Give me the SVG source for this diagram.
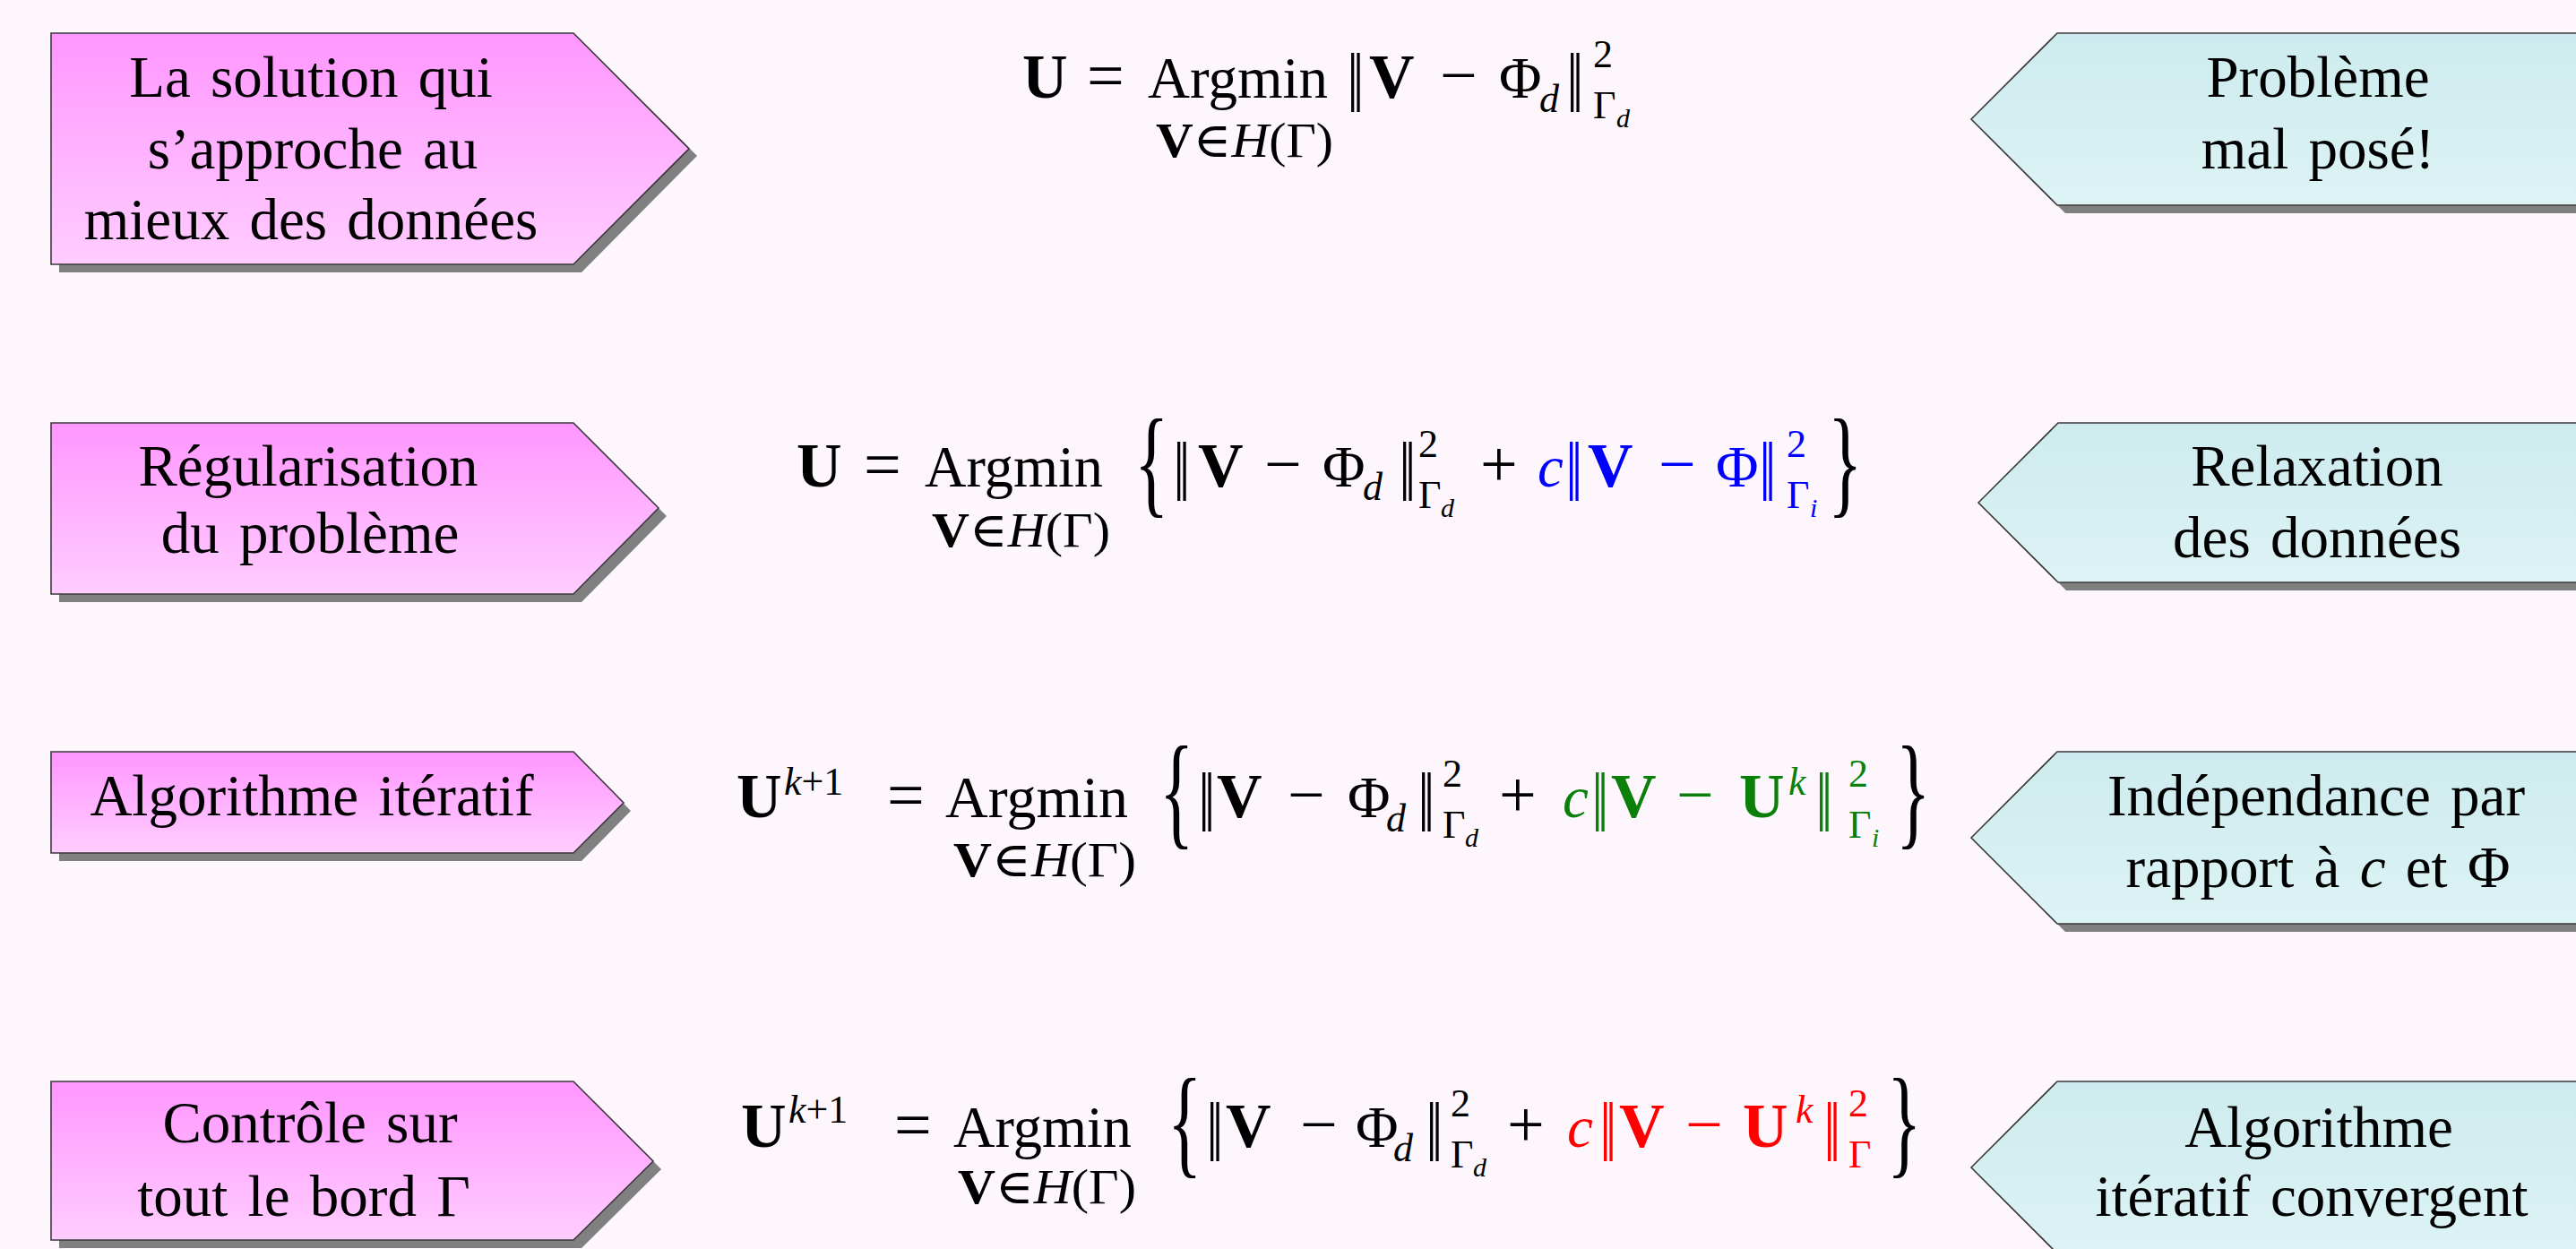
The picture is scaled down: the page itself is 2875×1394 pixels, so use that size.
<svg xmlns="http://www.w3.org/2000/svg" width="2875" height="1394" viewBox="0 0 2875 1394">
<defs>
<linearGradient id="gPink" x1="0" y1="0" x2="0" y2="1">
<stop offset="0" stop-color="#ff96ff"/>
<stop offset="1" stop-color="#ffcdff"/>
</linearGradient>
<linearGradient id="gCyan" x1="0" y1="0" x2="0" y2="1">
<stop offset="0" stop-color="#cdebee"/>
<stop offset="1" stop-color="#ddf3f5"/>
</linearGradient>
<style>
.shadow{fill:#808080}
.lbox{fill:url(#gPink);stroke:#3a3a3a;stroke-width:1.6}
.rbox{fill:url(#gCyan);stroke:#3a3a3a;stroke-width:1.6}
text{font-family:"Liberation Serif","DejaVu Serif",serif;fill:#000}
.lbl{font-size:65px;text-anchor:middle;word-spacing:6px}
.m{font-size:65px}
.o{font-size:74px}
.n{font-family:"DejaVu Sans",sans-serif;font-size:66px}
.b{font-weight:bold;font-size:70px}
.i{font-style:italic}
.s{font-size:44px}
.ss{font-size:30px}
.lim{font-size:54px}
.lim .b{font-size:54px}
.br{font-size:80px}
.blue{fill:#0000ff}
.green{fill:#0a800a}
.red{fill:#ff0000}
</style>
</defs>
<rect x="0" y="0" width="2875" height="1394" fill="#fdf6fd"/>

<g id="connectors"></g>

<!-- Row 1 -->
<g id="node-left-1">
<polygon class="shadow" points="66,46 649,46 778,174 649,304 66,304"/>
<polygon class="lbox" points="57,37 640,37 769,166 640,295 57,295"/>
<text class="lbl" x="347" y="108">La solution qui</text>
<text class="lbl" x="349" y="188">s’approche au</text>
<text class="lbl" x="347" y="267">mieux des données</text>
</g>
<g id="node-formula-1">
<text class="m b" x="1141" y="109">U</text>
<text class="o" x="1213" y="109">=</text>
<text class="m" x="1281" y="109" textLength="201" lengthAdjust="spacingAndGlyphs">Argmin</text>
<text class="lim" x="1290" y="175" textLength="198" lengthAdjust="spacingAndGlyphs"><tspan class="b">V</tspan>∈<tspan class="i">H</tspan>(Γ)</text>
<text class="n" transform="translate(1503,109) scale(0.6,1)">‖</text>
<text class="m b" x="1528" y="109">V</text>
<text class="o" x="1607" y="109">−</text>
<text class="m" x="1673" y="109">Φ</text>
<text class="s i" x="1718" y="125">d</text>
<text class="n" transform="translate(1748,109) scale(0.6,1)">‖</text>
<text class="s" x="1778" y="75">2</text>
<text class="s" x="1778" y="132">Γ</text>
<text class="ss i" x="1804" y="142">d</text>
</g>
<g id="node-right-1">
<polygon class="shadow" points="2209,142 2305,46 2900,46 2900,238 2305,238"/>
<polygon class="rbox" points="2200,133 2296,37 2900,37 2900,229 2296,229"/>
<text class="lbl" x="2587" y="108">Problème</text>
<text class="lbl" x="2587" y="188">mal posé!</text>
</g>

<!-- Row 2 -->
<g id="node-left-2">
<polygon class="shadow" points="66,481 649,481 744,576 649,672 66,672"/>
<polygon class="lbox" points="57,472 640,472 735,567 640,663 57,663"/>
<text class="lbl" x="344" y="542">Régularisation</text>
<text class="lbl" x="346" y="617">du problème</text>
</g>
<g id="node-formula-2">
<text class="m b" x="889" y="543">U</text>
<text class="o" x="964" y="543">=</text>
<text class="m" x="1032" y="543" textLength="199" lengthAdjust="spacingAndGlyphs">Argmin</text>
<text class="lim" x="1040" y="610" textLength="199" lengthAdjust="spacingAndGlyphs"><tspan class="b">V</tspan>∈<tspan class="i">H</tspan>(Γ)</text>
<text class="br" transform="translate(1266,560) scale(1,1.67)">{</text>
<text class="n" transform="translate(1309,543) scale(0.6,1)">‖</text>
<text class="m b" x="1337" y="543">V</text>
<text class="o" x="1411" y="543">−</text>
<text class="m" x="1476" y="543">Φ</text>
<text class="s i" x="1521" y="558">d</text>
<text class="n" transform="translate(1561,543) scale(0.6,1)">‖</text>
<text class="s" x="1583" y="510">2</text>
<text class="s" x="1583" y="567">Γ</text>
<text class="ss i" x="1608" y="577">d</text>
<text class="o" x="1652" y="543">+</text>
<text class="m i blue" x="1716" y="543">c</text>
<text class="n blue" transform="translate(1747,543) scale(0.6,1)">‖</text>
<text class="m b blue" x="1772" y="543">V</text>
<text class="o blue" x="1851" y="543">−</text>
<text class="m blue" x="1915" y="543">Φ</text>
<text class="n blue" transform="translate(1963,543) scale(0.6,1)">‖</text>
<text class="s blue" x="1994" y="510">2</text>
<text class="s blue" x="1994" y="567">Γ</text>
<text class="ss i blue" x="2020" y="577">i</text>
<text class="br" transform="translate(2040,560) scale(1,1.67)">}</text>
</g>
<g id="node-right-2">
<polygon class="shadow" points="2217,569 2306,481 2900,481 2900,659 2306,659"/>
<polygon class="rbox" points="2208,561 2297,472 2900,472 2900,650 2297,650"/>
<text class="lbl" x="2586" y="542">Relaxation</text>
<text class="lbl" x="2586" y="622">des données</text>
</g>

<!-- Row 3 -->
<g id="node-left-3">
<polygon class="shadow" points="66,848 649,848 704,905 649,961 66,961"/>
<polygon class="lbox" points="57,839 640,839 696,896 640,952 57,952"/>
<text class="lbl" x="348" y="910">Algorithme itératif</text>
</g>
<g id="node-formula-3">
<text class="m b" x="822" y="912">U</text>
<text class="s i" x="875" y="887">k<tspan font-style="normal">+1</tspan></text>
<text class="o" x="990" y="912">=</text>
<text class="m" x="1055" y="912" textLength="204" lengthAdjust="spacingAndGlyphs">Argmin</text>
<text class="lim" x="1064" y="978" textLength="204" lengthAdjust="spacingAndGlyphs"><tspan class="b">V</tspan>∈<tspan class="i">H</tspan>(Γ)</text>
<text class="br" transform="translate(1294,929) scale(1,1.74)">{</text>
<text class="n" transform="translate(1337,912) scale(0.6,1)">‖</text>
<text class="m b" x="1358" y="912">V</text>
<text class="o" x="1437" y="912">−</text>
<text class="m" x="1504" y="912">Φ</text>
<text class="s i" x="1547" y="928">d</text>
<text class="n" transform="translate(1582,912) scale(0.6,1)">‖</text>
<text class="s" x="1610" y="878">2</text>
<text class="s" x="1610" y="935">Γ</text>
<text class="ss i" x="1635" y="945">d</text>
<text class="o" x="1673" y="912">+</text>
<text class="m i green" x="1744" y="912">c</text>
<text class="n green" transform="translate(1776,912) scale(0.6,1)">‖</text>
<text class="m b green" x="1798" y="912">V</text>
<text class="o green" x="1871" y="912">−</text>
<text class="m b green" x="1941" y="912">U</text>
<text class="s i green" x="1996" y="887">k</text>
<text class="n green" transform="translate(2026,912) scale(0.6,1)">‖</text>
<text class="s green" x="2063" y="878">2</text>
<text class="s green" x="2063" y="935">Γ</text>
<text class="ss i green" x="2089" y="945">i</text>
<text class="br" transform="translate(2116,929) scale(1,1.74)">}</text>
</g>
<g id="node-right-3">
<polygon class="shadow" points="2209,944 2305,848 2900,848 2900,1040 2305,1040"/>
<polygon class="rbox" points="2200,935 2296,839 2900,839 2900,1031 2296,1031"/>
<text class="lbl" x="2585" y="910">Indépendance par</text>
<text class="lbl" x="2587" y="990">rapport à <tspan class="i">c</tspan> et Φ</text>
</g>

<!-- Row 4 -->
<g id="node-left-4">
<polygon class="shadow" points="66,1216 649,1216 738,1305 649,1393 66,1393"/>
<polygon class="lbox" points="57,1207 640,1207 729,1296 640,1384 57,1384"/>
<text class="lbl" x="346" y="1275">Contrôle sur</text>
<text class="lbl" x="339" y="1357">tout le bord Γ</text>
</g>
<g id="node-formula-4">
<text class="m b" x="827" y="1280">U</text>
<text class="s i" x="880" y="1253">k<tspan font-style="normal">+1</tspan></text>
<text class="o" x="998" y="1280">=</text>
<text class="m" x="1064" y="1280" textLength="199" lengthAdjust="spacingAndGlyphs">Argmin</text>
<text class="lim" x="1069" y="1343" textLength="199" lengthAdjust="spacingAndGlyphs"><tspan class="b">V</tspan>∈<tspan class="i">H</tspan>(Γ)</text>
<text class="br" transform="translate(1303,1297) scale(1,1.7)">{</text>
<text class="n" transform="translate(1346,1280) scale(0.6,1)">‖</text>
<text class="m b" x="1368" y="1280">V</text>
<text class="o" x="1451" y="1280">−</text>
<text class="m" x="1513" y="1280">Φ</text>
<text class="s i" x="1555" y="1296">d</text>
<text class="n" transform="translate(1591,1280) scale(0.6,1)">‖</text>
<text class="s" x="1619" y="1246">2</text>
<text class="s" x="1619" y="1303">Γ</text>
<text class="ss i" x="1644" y="1313">d</text>
<text class="o" x="1682" y="1280">+</text>
<text class="m i red" x="1749" y="1280">c</text>
<text class="n red" transform="translate(1785,1280) scale(0.6,1)">‖</text>
<text class="m b red" x="1807" y="1280">V</text>
<text class="o red" x="1881" y="1280">−</text>
<text class="m b red" x="1945" y="1280">U</text>
<text class="s i red" x="2004" y="1253">k</text>
<text class="n red" transform="translate(2035,1280) scale(0.6,1)">‖</text>
<text class="s red" x="2063" y="1246">2</text>
<text class="s red" x="2063" y="1303">Γ</text>
<text class="br" transform="translate(2106,1297) scale(1,1.7)">}</text>
</g>
<g id="node-right-4">
<polygon class="shadow" points="2209,1312 2305,1216 2900,1216 2900,1408 2305,1408"/>
<polygon class="rbox" points="2200,1303 2296,1207 2900,1207 2900,1399 2296,1399"/>
<text class="lbl" x="2588" y="1280">Algorithme</text>
<text class="lbl" x="2580" y="1357">itératif convergent</text>
</g>
</svg>
